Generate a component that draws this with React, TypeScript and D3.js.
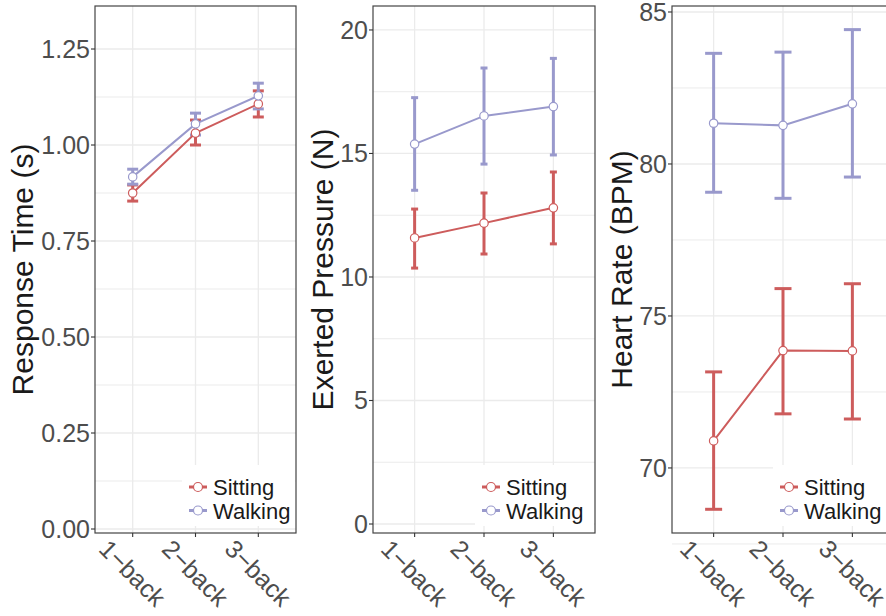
import React from "react";
import * as d3 from "d3";

const categories = ["1−back", "2−back", "3−back"];
const seriesNames = ["Sitting", "Walking"];

// Panel 1: Response Time (s)
const rtSitting = [0.875, 1.031, 1.107];
const rtSittingLo = [0.854, 1.0, 1.073];
const rtSittingHi = [0.896, 1.065, 1.141];
const rtWalking = [0.917, 1.055, 1.128];
const rtWalkingLo = [0.898, 1.026, 1.094];
const rtWalkingHi = [0.937, 1.083, 1.161];
const rtTicks = [0, 0.25, 0.5, 0.75, 1.0, 1.25];
const rtMinor = [0.125, 0.375, 0.625, 0.875, 1.125];

// Panel 2: Exerted Pressure (N)
const epSitting = [11.58, 12.18, 12.8];
const epSittingLo = [10.36, 10.93, 11.34];
const epSittingHi = [12.75, 13.4, 14.25];
const epWalking = [15.38, 16.52, 16.9];
const epWalkingLo = [13.51, 14.57, 14.94];
const epWalkingHi = [17.26, 18.46, 18.85];
const epTicks = [0, 5, 10, 15, 20];
const epMinor = [2.5, 7.5, 12.5, 17.5];

// Panel 3: Heart Rate (BPM)
const hrSitting = [70.89, 73.86, 73.85];
const hrSittingLo = [68.64, 71.78, 71.61];
const hrSittingHi = [73.16, 75.9, 76.06];
const hrWalking = [81.34, 81.27, 81.98];
const hrWalkingLo = [79.07, 78.87, 79.57];
const hrWalkingHi = [83.64, 83.68, 84.42];
const hrTicks = [70, 75, 80, 85];
const hrMinor = [67.5, 72.5, 77.5, 82.5];

const COLORS = ["#CD5C5C", "#9999CC"];
const FONT = "'Liberation Sans', Arial, Helvetica, sans-serif";

type Series = { mean: number[]; lo: number[]; hi: number[] };

type PanelProps = {
  left: number;
  right: number;
  top: number;
  bottom: number;
  domain: [number, number];
  ticks: number[];
  minor: number[];
  fmt: (v: number) => string;
  title: string;
  titleX: number;
  series: Series[];
  capW: number;
  legendKeyX: number;
  legendBoxX: number;
  clipRight?: boolean;
};

function Panel(p: PanelProps) {
  const x = d3
    .scalePoint<string>()
    .domain(categories)
    .range([p.left, p.right])
    .padding(0.6);
  const y = d3.scaleLinear().domain(p.domain).range([p.bottom, p.top]);
  const line = d3
    .line<number>()
    .x((_, i) => x(categories[i]) as number)
    .y((d) => y(d));
  const grid = "#EBEBEB";
  const border = "#444444";
  const midY = (p.top + p.bottom) / 2;
  const legendTop = 465;
  return (
    <g>
      <rect x={p.left} y={p.top} width={p.right - p.left} height={p.bottom - p.top} fill="white" />
      {p.minor.map((t) => (
        <line key={"mi" + t} x1={p.left} x2={p.right} y1={y(t)} y2={y(t)} stroke={grid} strokeWidth={1} />
      ))}
      {p.ticks.map((t) => (
        <line key={"ma" + t} x1={p.left} x2={p.right} y1={y(t)} y2={y(t)} stroke={grid} strokeWidth={1.3} />
      ))}
      {categories.map((c) => (
        <line key={"vx" + c} x1={x(c)} x2={x(c)} y1={p.top} y2={p.bottom} stroke={grid} strokeWidth={1.3} />
      ))}
      {/* series */}
      {p.series.map((s, si) => (
        <g key={"s" + si}>
          {s.mean.map((_, i) => {
            const cx = x(categories[i]) as number;
            return (
              <g key={i} stroke={COLORS[si]} strokeWidth={3}>
                <line x1={cx} x2={cx} y1={y(s.lo[i])} y2={y(s.hi[i])} />
                <line x1={cx - p.capW / 2} x2={cx + p.capW / 2} y1={y(s.lo[i])} y2={y(s.lo[i])} />
                <line x1={cx - p.capW / 2} x2={cx + p.capW / 2} y1={y(s.hi[i])} y2={y(s.hi[i])} />
              </g>
            );
          })}
        </g>
      ))}
      {p.series.map((s, si) => (
        <path key={"l" + si} d={line(s.mean) || ""} fill="none" stroke={COLORS[si]} strokeWidth={2} />
      ))}
      {p.series.map((s, si) =>
        s.mean.map((v, i) => (
          <circle
            key={"p" + si + i}
            cx={x(categories[i])}
            cy={y(v)}
            r={4.2}
            fill="white"
            stroke={COLORS[si]}
            strokeWidth={1.2}
          />
        ))
      )}
      {/* legend */}
      <rect x={p.legendBoxX} y={legendTop} width={p.right - p.legendBoxX - 1} height={61} fill="white" />
      {seriesNames.map((n, i) => {
        const ly = 487 + i * 23.5;
        return (
          <g key={"lg" + n}>
            <line x1={p.legendKeyX} x2={p.legendKeyX + 18} y1={ly} y2={ly} stroke={COLORS[i]} strokeWidth={3} />
            <circle cx={p.legendKeyX + 9} cy={ly} r={4.5} fill="white" stroke={COLORS[i]} strokeWidth={1.2} />
            <text x={p.legendKeyX + 24} y={ly + 8} fontSize={22} fill="#1A1A1A" fontFamily={FONT}>
              {n}
            </text>
          </g>
        );
      })}
      {/* border */}
      <rect
        x={p.left}
        y={p.top}
        width={p.right - p.left}
        height={p.bottom - p.top}
        fill="none"
        stroke={border}
        strokeWidth={1.2}
      />
      {/* y axis ticks */}
      {p.ticks.map((t) => (
        <g key={"yt" + t}>
          <line x1={p.left - 4} x2={p.left} y1={y(t)} y2={y(t)} stroke="#333" strokeWidth={1.1} />
          <text
            x={p.left - 5}
            y={y(t)}
            dy="0.36em"
            textAnchor="end"
            fontSize={25}
            fill="#4D4D4D"
            fontFamily={FONT}
          >
            {p.fmt(t)}
          </text>
        </g>
      ))}
      {/* x axis ticks */}
      {categories.map((c) => (
        <g key={"xt" + c}>
          <line x1={x(c)} x2={x(c)} y1={p.bottom} y2={p.bottom + 4} stroke="#333" strokeWidth={1.1} />
          <text
            transform={`translate(${x(c)},${573}) rotate(45)`}
            textAnchor="middle"
            dy="0.36em"
            fontSize={25}
            fill="#4D4D4D"
            fontFamily={FONT}
          >
            {c}
          </text>
        </g>
      ))}
      <text
        transform={`translate(${p.titleX},${midY}) rotate(-90)`}
        textAnchor="middle"
        fontSize={30}
        fill="#1A1A1A"
        fontFamily={FONT}
      >
        {p.title}
      </text>
    </g>
  );
}

export default function App() {
  return (
    <svg
      width={886}
      height={616}
      style={{ position: "absolute", left: 0, top: 0, background: "white" }}
    >
      <rect width={886} height={616} fill="white" />
      <Panel
        left={95}
        right={296}
        top={6}
        bottom={533}
        domain={[-0.0104, 1.362]}
        ticks={rtTicks}
        minor={rtMinor}
        fmt={(v) => d3.format(".2f")(v)}
        title="Response Time (s)"
        titleX={33}
        series={[
          { mean: rtSitting, lo: rtSittingLo, hi: rtSittingHi },
          { mean: rtWalking, lo: rtWalkingLo, hi: rtWalkingHi },
        ]}
        capW={11}
        legendKeyX={189}
        legendBoxX={182}
      />
      <Panel
        left={373}
        right={595}
        top={6}
        bottom={533}
        domain={[-0.364, 20.97]}
        ticks={epTicks}
        minor={epMinor}
        fmt={(v) => String(v)}
        title="Exerted Pressure (N)"
        titleX={333}
        series={[
          { mean: epSitting, lo: epSittingLo, hi: epSittingHi },
          { mean: epWalking, lo: epWalkingLo, hi: epWalkingHi },
        ]}
        capW={7}
        legendKeyX={482}
        legendBoxX={475}
      />
      <Panel
        left={672}
        right={894}
        top={6}
        bottom={533}
        domain={[67.86, 85.197]}
        ticks={hrTicks}
        minor={hrMinor}
        fmt={(v) => String(v)}
        title="Heart Rate (BPM)"
        titleX={632}
        series={[
          { mean: hrSitting, lo: hrSittingLo, hi: hrSittingHi },
          { mean: hrWalking, lo: hrWalkingLo, hi: hrWalkingHi },
        ]}
        capW={17}
        legendKeyX={780}
        legendBoxX={773}
      />
    </svg>
  );
}
